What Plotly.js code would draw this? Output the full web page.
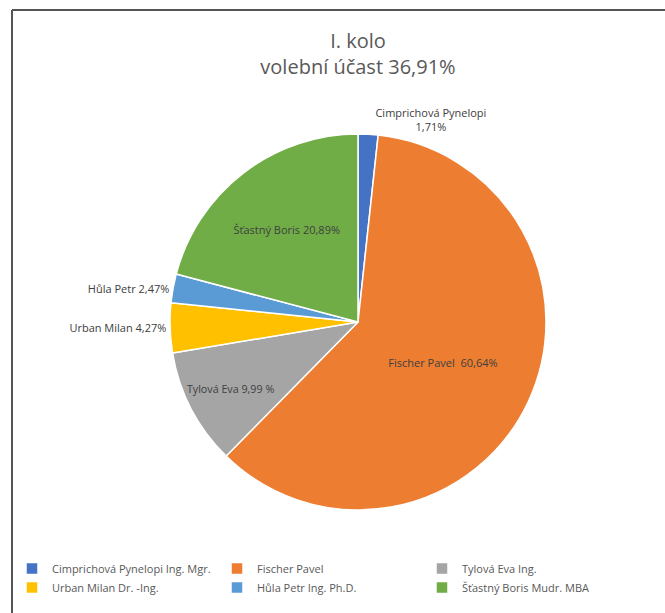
<!DOCTYPE html>
<html>
<head>
<meta charset="utf-8">
<script src="https://cdn.plot.ly/plotly-3.0.1.min.js"></script>
<style>html,body{margin:0;padding:0;background:#fff;}#chart{width:665px;height:613px;}</style>
</head>
<body>
<div id="chart"></div>
<script>
const candidates = ["Cimprichová Pynelopi Ing. Mgr.", "Fischer Pavel", "Tylová Eva Ing.", "Urban Milan Dr. -Ing.", "Hůla Petr Ing. Ph.D.", "Šťastný Boris Mudr. MBA"];
const shares = [1.71, 60.64, 9.99, 4.27, 2.47, 20.89];
const sliceLabels = ["Cimprichová Pynelopi<br>1,71%", "Fischer Pavel  60,64%", "Tylová Eva 9,99 %", "Urban Milan 4,27%", "Hůla Petr 2,47%", "Šťastný Boris 20,89%"];
const labelPositions = ["outside", "inside", "inside", "outside", "outside", "inside"];
const colors = ["#4472C4", "#ED7D31", "#A5A5A5", "#FFC000", "#5B9BD5", "#70AD47"];

const W = 665, H = 613;
const FONT = "Open Sans, Lato, sans-serif";
const trace = {
  type: "pie",
  labels: candidates,
  values: shares,
  text: sliceLabels,
  textinfo: "text",
  textposition: labelPositions,
  insidetextorientation: "horizontal",
  sort: false,
  direction: "clockwise",
  rotation: 0,
  marker: {colors: colors, line: {color: "#ffffff", width: 1.5}},
  textfont: {family: FONT, size: 11, color: "#404040"},
  outsidetextfont: {family: FONT, size: 11, color: "#404040"},
  insidetextfont: {family: FONT, size: 11, color: "#404040"},
  domain: {x: [170 / W, 546 / W], y: [1 - 510 / H, 1 - 134 / H]},
  hoverinfo: "label+percent"
};

const layout = {
  width: W, height: H,
  margin: {l: 0, r: 0, t: 0, b: 0},
  paper_bgcolor: "#ffffff",
  font: {family: FONT, color: "#595959"},
  title: {
    text: "I. kolo<br>volební účast 36,91%",
    font: {family: FONT, size: 20, color: "#595959"},
    x: 358 / W, xanchor: "center", y: 1 - 48 / H, yanchor: "top"
  },
  showlegend: true,
  legend: {
    orientation: "h",
    x: 12 / W, xanchor: "left",
    y: 1 - 554 / H, yanchor: "top",
    entrywidth: 160, entrywidthmode: "pixels",
    bgcolor: "rgba(0,0,0,0)",
    font: {family: FONT, size: 11, color: "#595959"},
    itemwidth: 30,
    tracegroupgap: 0
  },
  shapes: [
    {type: "line", xref: "paper", yref: "paper", x0: 12 / W, x1: 12 / W, y0: 0, y1: 1 - 10 / H, line: {color: "#555555", width: 2}},
    {type: "line", xref: "paper", yref: "paper", x0: 12 / W, x1: 1, y0: 1 - 10 / H, y1: 1 - 10 / H, line: {color: "#555555", width: 2}}
  ]
};

Plotly.newPlot("chart", [trace], layout, {displayModeBar: false, staticPlot: true});
</script>
</body>
</html>
